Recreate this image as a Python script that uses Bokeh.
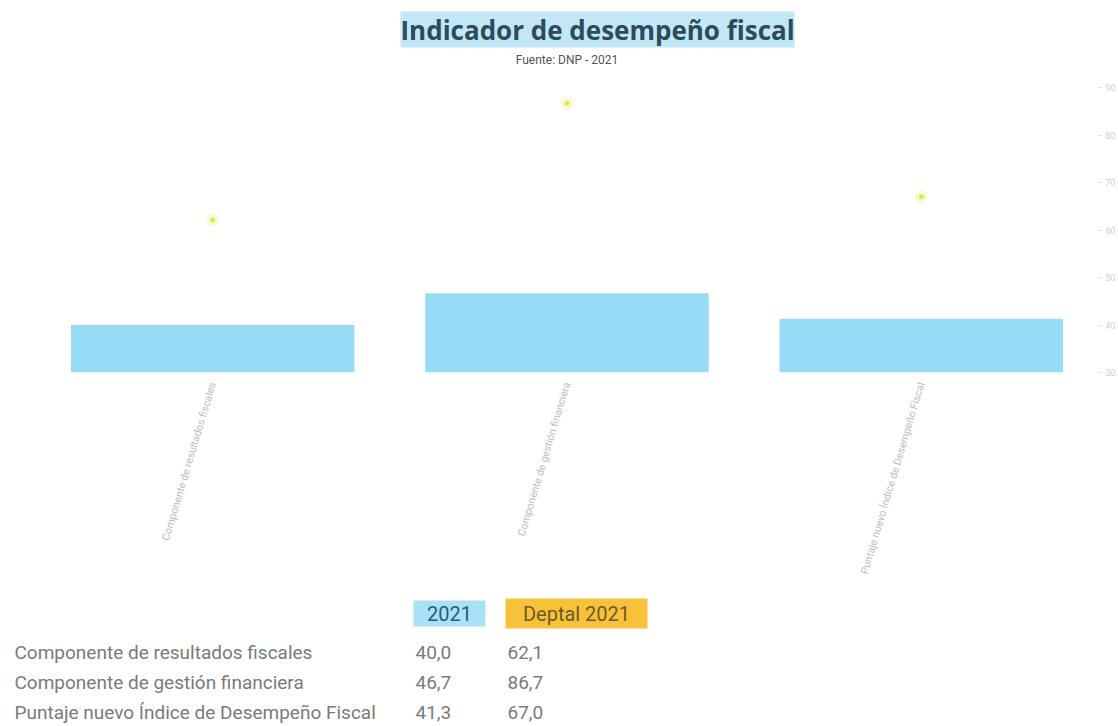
from bokeh.plotting import figure
from bokeh.models import Range1d, FactorRange, Title, FixedTicker
from bokeh.embed import file_html
from bokeh.resources import INLINE
from bokeh.core.properties import value

# ---------------- data ----------------
categories = [
    "Componente de resultados fiscales",
    "Componente de gestión financiera",
    "Puntaje nuevo Índice de Desempeño Fiscal",
]
values_2021 = [40.0, 46.7, 41.3]
values_deptal = [62.1, 86.7, 67.0]
y_ticks = [30, 40, 50, 60, 70, 80, 90]

table_headers = ["2021", "Deptal 2021"]
table_labels_2021 = ["40,0", "46,7", "41,3"]
table_labels_deptal = ["62,1", "86,7", "67,0"]

# ---------------- styles ----------------
BAR_COLOR = "#98dbf6"
DOT_COLOR = "#e2e64a"
TITLE_COLOR = "#2d4b5c"
TEXT_GRAY = "#7a7a7a"
FONT = "Roboto"

Y_START, Y_END = 30, 94

p = figure(
    x_range=FactorRange(*categories),
    y_range=Range1d(Y_START, Y_END),
    width=1118, height=596,
    output_backend="svg", toolbar_location=None,
    y_axis_location="right",
    min_border_left=35, min_border_right=19,
    min_border_top=68, min_border_bottom=224,
)
p.outline_line_color = None
p.grid.visible = False

p.vbar(x=categories, top=values_2021, bottom=Y_START, width=0.8,
       fill_color=BAR_COLOR, line_color=None)

p.scatter(x=categories, y=values_deptal, size=13, fill_color="#f4f7b0",
          fill_alpha=0.5, line_color=None)
p.scatter(x=categories, y=values_deptal, size=5, fill_color=DOT_COLOR,
          line_color=None)

xa = p.xaxis[0]
xa.axis_line_color = None
xa.major_tick_line_color = None
xa.minor_tick_line_color = None
xa.major_label_orientation = 1.28
xa.major_label_text_font = FONT
xa.major_label_text_font_size = "10.5px"
xa.major_label_text_color = "#bdbdbd"
xa.major_label_standoff = 4

ya = p.yaxis[0]
ya.ticker = FixedTicker(ticks=y_ticks)
ya.axis_line_color = None
ya.major_tick_line_color = "#e3e3e3"
ya.major_tick_out = 4
ya.major_tick_in = 0
ya.minor_tick_line_color = None
ya.major_label_text_font = FONT
ya.major_label_text_font_size = "9px"
ya.major_label_text_color = "#d0d0d0"
ya.major_label_standoff = 3

sub = Title(text="Fuente: DNP - 2021", align="center", text_font=FONT,
            text_font_size="12px", text_font_style="normal",
            text_color="#555555", standoff=4)
p.add_layout(sub, "above")
main = Title(text="Indicador de desempeño fiscal", align="left", offset=365,
             text_font="Open Sans", text_font_size="26px",
             text_font_style="bold", text_color=TITLE_COLOR,
             background_fill_color="#c2e7f7", standoff=2)
p.add_layout(main, "above")

# ---------------- table ----------------
TW, TH = 700, 130
t = figure(width=TW, height=TH, x_range=Range1d(0, TW), y_range=Range1d(TH, 0),
           output_backend="svg", toolbar_location=None, min_border=0,
           x_axis_type=None, y_axis_type=None)
t.outline_line_color = None
t.grid.visible = False

row_y0, row_step = 56, 30
rows_y = [row_y0 + i * row_step for i in range(len(categories))]
col_label_x, col1_x, col2_x = 14, 415, 507
ROW_FONT = "19px"
HEAD_Y = 17

# header boxes
t.rect(x=[col1_x + 34], y=[HEAD_Y], width=72, height=26, fill_color="#a9e1f6", line_color=None)
t.rect(x=[col2_x + 69], y=[HEAD_Y], width=142, height=30, fill_color="#f7c23a", line_color=None)
t.text(x=[col1_x + 34], y=[HEAD_Y], text=[table_headers[0]], text_align="center",
       text_baseline="middle", text_font=value(FONT), text_font_size="20px",
       text_color="#2f5a7a")
t.text(x=[col2_x + 69], y=[HEAD_Y], text=[table_headers[1]], text_align="center",
       text_baseline="middle", text_font=value(FONT), text_font_size="20px",
       text_color="#6b5a2a")

t.text(x=[col_label_x] * 3, y=rows_y, text=categories, text_baseline="middle",
       text_font=value(FONT), text_font_size=ROW_FONT, text_color=TEXT_GRAY)
t.text(x=[col1_x] * 3, y=rows_y, text=table_labels_2021, text_baseline="middle",
       text_font=value(FONT), text_font_size=ROW_FONT, text_color=TEXT_GRAY)
t.text(x=[col2_x] * 3, y=rows_y, text=table_labels_deptal, text_baseline="middle",
       text_font=value(FONT), text_font_size=ROW_FONT, text_color=TEXT_GRAY)

open("out.html", "w").write(file_html([p, t], INLINE))
